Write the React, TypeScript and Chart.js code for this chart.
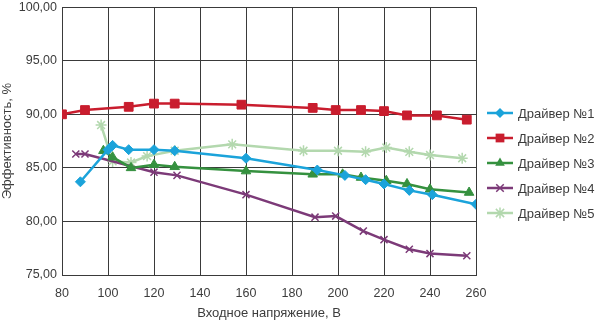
import React, { useEffect, useRef } from "react";
import { Chart, registerables } from "chart.js";

Chart.register(...registerables);

const seriesNames = ["Драйвер №1", "Драйвер №2", "Драйвер №3", "Драйвер №4", "Драйвер №5"];
const seriesColors = ["#1ba3da", "#c91d2e", "#35913f", "#7c3a78", "#b3d8ae"];
const seriesMarkers = ["rectRot", "rect", "triangle", "crossRot", "star"];
const markerRadius = [5, 6.2, 5.5, 5, 5.5];

const d1X = [88, 100, 102, 109, 120, 129, 160, 191, 203, 212, 220, 231, 241, 260];
const d1Y = [83.7, 86.7, 87.1, 86.7, 86.7, 86.6, 85.9, 84.8, 84.3, 83.9, 83.5, 82.9, 82.5, 81.6];
const d2X = [80, 90, 109, 120, 129, 158, 189, 199, 210, 220, 230, 243, 256];
const d2Y = [90.0, 90.4, 90.7, 91.0, 91.0, 90.9, 90.6, 90.4, 90.4, 90.3, 89.9, 89.9, 89.5];
const d3X = [98, 102, 110, 120, 129, 160, 189, 202, 210, 221, 230, 240, 257];
const d3Y = [86.6, 86.0, 85.0, 85.3, 85.1, 84.7, 84.4, 84.4, 84.1, 83.8, 83.5, 83.0, 82.7];
const d4X = [86, 90, 120, 130, 160, 190, 199, 211, 220, 231, 240, 256];
const d4Y = [86.3, 86.3, 84.6, 84.3, 82.5, 80.4, 80.5, 79.1, 78.3, 77.4, 77.0, 76.8];
const d5X = [97, 102, 110, 117, 129, 154, 185, 200, 212, 221, 231, 240, 254];
const d5Y = [89.0, 85.6, 85.5, 86.1, 86.6, 87.2, 86.6, 86.6, 86.5, 86.9, 86.5, 86.2, 85.9];

const xValues = [d1X, d2X, d3X, d4X, d5X];
const yValues = [d1Y, d2Y, d3Y, d4Y, d5Y];

const xTitle = "Входное напряжение, В";
const yTitle = "Эффективность, %";

const FONT = "'Liberation Sans', Arial, sans-serif";
const TEXT = "#3c3c3c";
const GRID = "#3a3a3a";

function drawMarker(ctx: CanvasRenderingContext2D, style: string, x: number, y: number, r: number, color: string) {
  ctx.save();
  ctx.fillStyle = color;
  ctx.strokeStyle = color;
  ctx.lineWidth = 1.5;
  ctx.beginPath();
  if (style === "rect") {
    const s = r * Math.SQRT1_2;
    ctx.rect(x - s, y - s, 2 * s, 2 * s);
    ctx.fill();
  } else if (style === "rectRot") {
    ctx.moveTo(x, y - r);
    ctx.lineTo(x + r, y);
    ctx.lineTo(x, y + r);
    ctx.lineTo(x - r, y);
    ctx.closePath();
    ctx.fill();
  } else if (style === "triangle") {
    ctx.moveTo(x, y - r);
    ctx.lineTo(x + r * 0.87, y + r * 0.5);
    ctx.lineTo(x - r * 0.87, y + r * 0.5);
    ctx.closePath();
    ctx.fill();
  } else if (style === "crossRot") {
    const s = r * 0.75;
    ctx.moveTo(x - s, y - s);
    ctx.lineTo(x + s, y + s);
    ctx.moveTo(x + s, y - s);
    ctx.lineTo(x - s, y + s);
    ctx.stroke();
  } else {
    const s = r * 0.75;
    ctx.moveTo(x - s, y - s);
    ctx.lineTo(x + s, y + s);
    ctx.moveTo(x + s, y - s);
    ctx.lineTo(x - s, y + s);
    ctx.moveTo(x, y - r);
    ctx.lineTo(x, y + r);
    ctx.moveTo(x - r, y);
    ctx.lineTo(x + r, y);
    ctx.stroke();
  }
  ctx.restore();
}

const legendPlugin = {
  id: "sideLegend",
  afterDraw(chart: any) {
    const ctx: CanvasRenderingContext2D = chart.ctx;
    const area = chart.chartArea;
    const x0 = area.right + 11;
    const yStart = 113;
    const step = 25;
    chart.data.datasets.forEach((ds: any, i: number) => {
      const y = yStart + i * step;
      ctx.save();
      ctx.strokeStyle = ds.borderColor;
      ctx.lineWidth = 2.5;
      ctx.beginPath();
      ctx.moveTo(x0, y);
      ctx.lineTo(x0 + 26, y);
      ctx.stroke();
      ctx.restore();
      drawMarker(ctx, ds.pointStyle, x0 + 13, y, ds.pointRadius, ds.borderColor);
      ctx.save();
      ctx.fillStyle = TEXT;
      ctx.font = `13px ${FONT}`;
      ctx.textBaseline = "middle";
      ctx.textAlign = "left";
      ctx.fillText(ds.label, x0 + 31, y + 1);
      ctx.restore();
    });
  },
};

export default function App() {
  const ref = useRef<HTMLCanvasElement | null>(null);

  useEffect(() => {
    if (!ref.current) return;
    const datasets = seriesNames.map((name, i) => ({
      label: name,
      data: xValues[i].map((x, j) => ({ x, y: yValues[i][j] })),
      borderColor: seriesColors[i],
      backgroundColor: seriesColors[i],
      pointBackgroundColor: seriesColors[i],
      pointBorderColor: seriesColors[i],
      pointStyle: seriesMarkers[i],
      pointRadius: markerRadius[i],
      pointBorderWidth: seriesMarkers[i] === "crossRot" || seriesMarkers[i] === "star" ? 1.5 : 1,
      borderWidth: 2.5,
      tension: 0,
      fill: false,
    }));
    const chart = new Chart(ref.current, {
      type: "line",
      data: { datasets },
      plugins: [legendPlugin],
      options: {
        animation: false,
        responsive: false,
        devicePixelRatio: 1,
        layout: { padding: { top: 5, right: 124, left: 0, bottom: 0 } },
        plugins: {
          legend: { display: false },
          tooltip: { enabled: false },
        },
        scales: {
          x: {
            type: "linear",
            min: 80,
            max: 260,
            ticks: {
              stepSize: 20,
              color: TEXT,
              font: { family: FONT, size: 12.5 },
              padding: 11,
              maxRotation: 0,
            },
            grid: { color: GRID, lineWidth: 1, drawTicks: false },
            border: { color: GRID, width: 1 },
            title: {
              display: true,
              text: xTitle,
              color: TEXT,
              font: { family: FONT, size: 13 },
              padding: { top: 0, bottom: 1 },
            },
            afterFit: (scale: any) => {
              scale.height = 47;
              scale.paddingLeft = 0;
              scale.paddingRight = 0;
            },
          },
          y: {
            type: "linear",
            min: 75,
            max: 100,
            ticks: {
              stepSize: 5,
              color: TEXT,
              font: { family: FONT, size: 12.5 },
              padding: 5,
              callback: (v: any) => Number(v).toFixed(2).replace(".", ","),
            },
            grid: { color: GRID, lineWidth: 1, drawTicks: false },
            border: { color: GRID, width: 1 },
            title: {
              display: true,
              text: yTitle,
              color: TEXT,
              font: { family: FONT, size: 13 },
              padding: { top: 0, bottom: 0 },
            },
            afterFit: (scale: any) => {
              scale.width = 62;
              scale.paddingTop = 0;
              scale.paddingBottom = 0;
            },
          },
        },
      },
    } as any);
    return () => chart.destroy();
  }, []);

  return (
    <div style={{ position: "fixed", left: 0, top: 0, width: 600, height: 322, background: "#fff" }}>
      <canvas ref={ref} width={600} height={322} style={{ width: 600, height: 322, display: "block" }} />
    </div>
  );
}
